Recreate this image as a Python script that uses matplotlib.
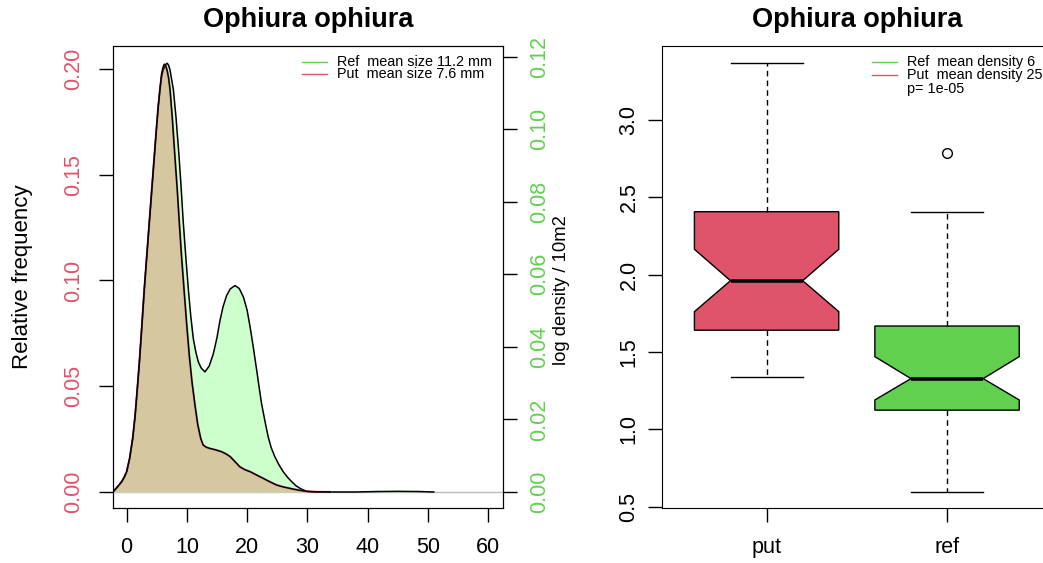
import matplotlib.pyplot as plt
from matplotlib.ticker import FormatStrFormatter

plt.rcParams['font.family'] = ['Liberation Sans', 'DejaVu Sans']

title = 'Ophiura ophiura'
red = '#DF536B'
green = '#61D04F'

# size-frequency curves
ref_x = [-2.2, -1.5, -0.83, -0.4, 0.0, 0.5, 1.0, 1.4, 1.77, 2.1, 2.38, 2.65, 2.93, 3.35,
         3.76, 4.2, 4.6, 4.95, 5.25, 5.55, 5.8, 6.05, 6.25, 6.5, 6.75, 7.0, 7.2, 7.75,
         8.2, 8.69, 9.0, 9.4, 9.8, 10.24, 10.65, 11.07, 11.5, 11.9, 12.4, 13.0, 13.7,
         14.4, 15.0, 15.5, 16.0, 16.6, 17.2, 18.0, 18.7, 19.4, 20.0, 20.5, 21.0, 21.6,
         22.0, 22.4, 23.0, 23.5, 24.0, 24.6, 25.3, 26.0, 26.7, 27.4, 28.1, 28.8, 29.9,
         31.0, 38.0, 41.5, 45.0, 48.7, 51.0]
ref_y = [0.0003, 0.0025, 0.0049, 0.007, 0.0096, 0.016, 0.0253, 0.036, 0.0489, 0.061,
         0.0725, 0.084, 0.096, 0.112, 0.1275, 0.144, 0.159, 0.172, 0.1825, 0.191, 0.1965,
         0.1995, 0.2008, 0.2022, 0.2027, 0.2015, 0.1995, 0.1904, 0.177, 0.159, 0.146,
         0.1275, 0.112, 0.096, 0.083, 0.0725, 0.066, 0.0615, 0.0585, 0.0568, 0.0595,
         0.0654, 0.073, 0.0811, 0.0875, 0.0929, 0.096, 0.0976, 0.0962, 0.0921, 0.086,
         0.078, 0.069, 0.0575, 0.0495, 0.0418, 0.033, 0.0261, 0.021, 0.0167, 0.0128,
         0.0096, 0.007, 0.0049, 0.003, 0.0017, 0.0003, 0.0, 0.0, 0.0002, 0.0003,
         0.0002, 0.0]
put_x = [-2.2, -1.5, -0.83, -0.4, 0.0, 0.5, 1.0, 1.4, 1.77, 2.1, 2.38, 2.65, 2.93, 3.35,
         3.76, 4.2, 4.6, 4.95, 5.25, 5.55, 5.8, 6.05, 6.25, 6.45, 6.7, 6.95, 7.2, 7.6,
         8.0, 8.4, 8.74, 9.1, 9.52, 9.95, 10.4, 10.85, 11.35, 11.8, 12.3, 12.7, 13.2,
         13.8, 14.8, 15.8, 16.5, 17.2, 18.0, 18.8, 19.6, 20.5, 21.6, 22.7, 23.8, 24.9,
         26.0, 27.1, 28.5, 29.9, 31.5, 33.8]
put_y = [0.0003, 0.0025, 0.0049, 0.007, 0.0096, 0.016, 0.0253, 0.036, 0.0489, 0.061,
         0.0725, 0.084, 0.096, 0.112, 0.1275, 0.144, 0.159, 0.172, 0.1825, 0.191, 0.1975,
         0.2008, 0.2022, 0.2018, 0.1995, 0.196, 0.1904, 0.176, 0.159, 0.143, 0.1275,
         0.112, 0.096, 0.08, 0.0646, 0.052, 0.041, 0.032, 0.0253, 0.0222, 0.0212,
         0.0206, 0.0199, 0.019, 0.018, 0.0167, 0.0143, 0.0119, 0.0106, 0.0096, 0.008,
         0.0064, 0.0048, 0.0033, 0.0024, 0.0017, 0.0009, 0.0003, 0.0001, 0.0]

size_labels = ['Ref  mean size 11.2 mm', 'Put  mean size 7.6 mm']
size_colors = [green, red]
dens_labels = ['Ref  mean density 6', 'Put  mean density 25', 'p= 1e-05']
dens_colors = [green, red, None]

# log density boxplots
groups = ['put', 'ref']
box_colors = [red, green]
q1 = [1.641, 1.124]
med = [1.961, 1.328]
q3 = [2.407, 1.668]
whis_lo = [1.337, 0.597]
whis_hi = [3.370, 2.405]
notch_lo = [1.761, 1.190]
notch_hi = [2.164, 1.470]
outliers = [[], [2.789]]

fs = 15.5
fig = plt.figure(figsize=(10.43, 5.63), dpi=100)

# ---- left panel: size distributions
ax1 = fig.add_axes([0.1086, 0.0977, 0.3736, 0.8211])
ax1.axhline(0, color='#BBBBBB', lw=1, zorder=1)
ax1.fill_between(ref_x, ref_y, color='#CCFFCC', lw=0, zorder=2)
ax1.plot(ref_x, ref_y, color='black', lw=1.1, zorder=4)
ax1.fill_between(put_x, put_y, color='#D5C8A0', lw=0, zorder=3)
ax1.plot(put_x, put_y, color=red, lw=1.6, alpha=0.5, zorder=4)
ax1.plot(put_x, put_y, color='black', lw=1.1, zorder=5)
ax1.set_xlim(-2.225, 62.49)
ax1.set_ylim(-0.00757, 0.2110)
ax1.set_xticks([0, 10, 20, 30, 40, 50, 60])
ax1.set_yticks([0, 0.05, 0.10, 0.15, 0.20])
ax1.yaxis.set_major_formatter(FormatStrFormatter('%.2f'))
ax1.tick_params(axis='both', direction='out', length=10, width=1, labelsize=fs, pad=11)
ax1.tick_params(axis='y', labelcolor=red, labelrotation=90)
for lab in ax1.get_yticklabels():
    lab.set_va('center')
ax1.set_title(title, fontsize=19.5, fontweight='bold', pad=13.5)
ax1.text(-0.2317, 0.5, 'Relative frequency', transform=ax1.transAxes, rotation=90,
         ha='center', va='center', fontsize=16)

for i, (lab, col) in enumerate(zip(size_labels, size_colors)):
    yy = 0.9654 - i * 0.0273
    ax1.plot([0.4834, 0.5476], [yy, yy], color=col, lw=1, transform=ax1.transAxes)
    ax1.text(0.5748, yy, lab, transform=ax1.transAxes, ha='left', va='center', fontsize=10.4)

ax2 = ax1.twinx()
ax2.set_ylim(-0.00441, 0.1230)
ax2.set_yticks([0, 0.02, 0.04, 0.06, 0.08, 0.10, 0.12])
ax2.yaxis.set_major_formatter(FormatStrFormatter('%.2f'))
ax2.tick_params(axis='y', direction='out', length=10, width=1, labelsize=fs, pad=9,
                labelcolor=green, labelrotation=90)
for lab in ax2.get_yticklabels():
    lab.set_va('center')
ax2.text(1.1514, 0.4716, 'log density / 10m2', transform=ax2.transAxes, rotation=90,
         ha='center', va='center', fontsize=13.3)

# ---- right panel: notched boxplots
ax3 = fig.add_axes([0.6344, 0.0977, 0.3742, 0.8211])
stats = []
for i, g in enumerate(groups):
    stats.append(dict(label=g, med=med[i], q1=q1[i], q3=q3[i], whislo=whis_lo[i],
                      whishi=whis_hi[i], cilo=notch_lo[i], cihi=notch_hi[i],
                      fliers=outliers[i]))
bp = ax3.bxp(stats, positions=[1, 2], widths=0.8, shownotches=True, patch_artist=True,
             boxprops=dict(edgecolor='black', lw=1),
             whiskerprops=dict(color='black', lw=1, linestyle=(0, (4, 3))),
             capprops=dict(color='black', lw=1),
             medianprops=dict(color='black', lw=2.6),
             flierprops=dict(marker='o', markerfacecolor='none', markeredgecolor='black',
                             markersize=7, markeredgewidth=1))
for patch, col in zip(bp['boxes'], box_colors):
    patch.set_facecolor(col)
ax3.set_xlim(0.4186, 2.5814)
ax3.set_ylim(0.4916, 3.480)
ax3.set_yticks([0.5, 1.0, 1.5, 2.0, 2.5, 3.0])
ax3.yaxis.set_major_formatter(FormatStrFormatter('%.1f'))
ax3.tick_params(axis='both', direction='out', length=10, width=1, labelsize=fs, pad=11)
ax3.tick_params(axis='y', labelrotation=90, pad=6)
for lab in ax3.get_yticklabels():
    lab.set_va('center')
ax3.set_title(title, fontsize=19.5, fontweight='bold', pad=13.5)

for i, (lab, col) in enumerate(zip(dens_labels, dens_colors)):
    yy = 0.9654 - i * 0.0290
    if col is not None:
        ax3.plot([0.538, 0.602], [yy, yy], color=col, lw=1, transform=ax3.transAxes)
    ax3.text(0.6277, yy, lab, transform=ax3.transAxes, ha='left', va='center', fontsize=10.4)

fig.savefig('out.png', dpi=100)
